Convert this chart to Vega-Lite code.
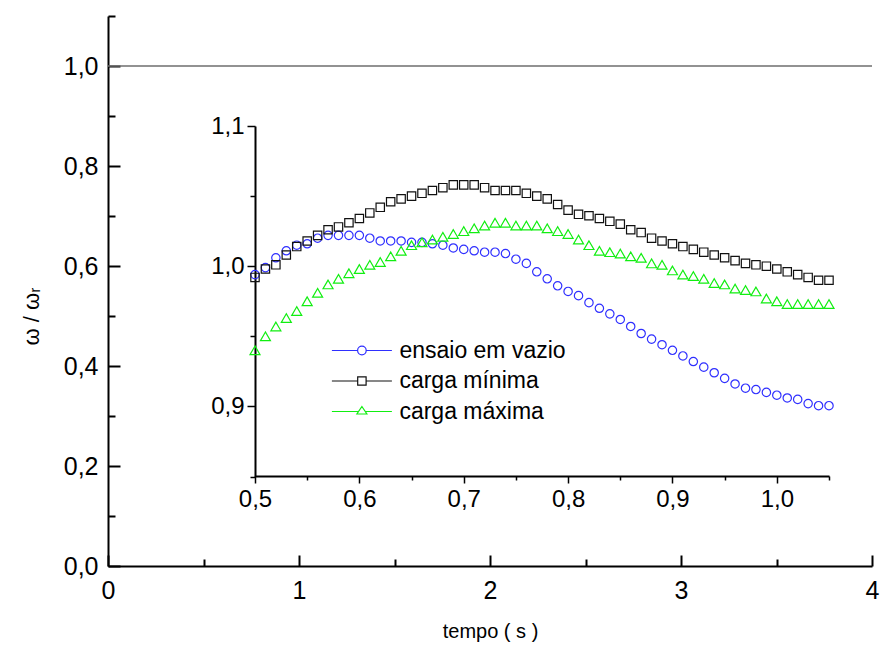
{
  "$schema": "https://vega.github.io/schema/vega-lite/v6.json",
  "width": 764,
  "height": 550,
  "autosize": {"type": "none"},
  "padding": {"left": 108, "top": 16, "right": 9, "bottom": 82},
  "background": "white",
  "config": {
    "font": "Liberation Sans",
    "view": {"stroke": null},
    "axis": {"grid": false, "labelColor": "#000", "titleColor": "#000", "domainColor": "#000", "tickColor": "#000", "labelOverlap": false, "labelFlush": false, "labelBound": false, "titleFontWeight": "normal"}
  },
  "datasets": {
    "ref": [{"r": 1.0}],
    "inset": [
      {"t":0.50,"s":"ensaio em vazio","w":0.994},{"t":0.51,"s":"ensaio em vazio","w":0.999},{"t":0.52,"s":"ensaio em vazio","w":1.006},{"t":0.53,"s":"ensaio em vazio","w":1.011},{"t":0.54,"s":"ensaio em vazio","w":1.015},{"t":0.55,"s":"ensaio em vazio","w":1.016},{"t":0.56,"s":"ensaio em vazio","w":1.020},{"t":0.57,"s":"ensaio em vazio","w":1.022},{"t":0.58,"s":"ensaio em vazio","w":1.022},{"t":0.59,"s":"ensaio em vazio","w":1.022},{"t":0.60,"s":"ensaio em vazio","w":1.022},{"t":0.61,"s":"ensaio em vazio","w":1.020},{"t":0.62,"s":"ensaio em vazio","w":1.018},{"t":0.63,"s":"ensaio em vazio","w":1.018},{"t":0.64,"s":"ensaio em vazio","w":1.018},{"t":0.65,"s":"ensaio em vazio","w":1.017},{"t":0.66,"s":"ensaio em vazio","w":1.017},{"t":0.67,"s":"ensaio em vazio","w":1.016},{"t":0.68,"s":"ensaio em vazio","w":1.015},{"t":0.69,"s":"ensaio em vazio","w":1.013},{"t":0.70,"s":"ensaio em vazio","w":1.012},{"t":0.71,"s":"ensaio em vazio","w":1.011},{"t":0.72,"s":"ensaio em vazio","w":1.010},{"t":0.73,"s":"ensaio em vazio","w":1.010},{"t":0.74,"s":"ensaio em vazio","w":1.009},{"t":0.75,"s":"ensaio em vazio","w":1.005},{"t":0.76,"s":"ensaio em vazio","w":1.002},{"t":0.77,"s":"ensaio em vazio","w":0.996},{"t":0.78,"s":"ensaio em vazio","w":0.991},{"t":0.79,"s":"ensaio em vazio","w":0.986},{"t":0.80,"s":"ensaio em vazio","w":0.982},{"t":0.81,"s":"ensaio em vazio","w":0.979},{"t":0.82,"s":"ensaio em vazio","w":0.974},{"t":0.83,"s":"ensaio em vazio","w":0.970},{"t":0.84,"s":"ensaio em vazio","w":0.966},{"t":0.85,"s":"ensaio em vazio","w":0.962},{"t":0.86,"s":"ensaio em vazio","w":0.957},{"t":0.87,"s":"ensaio em vazio","w":0.952},{"t":0.88,"s":"ensaio em vazio","w":0.948},{"t":0.89,"s":"ensaio em vazio","w":0.944},{"t":0.90,"s":"ensaio em vazio","w":0.940},{"t":0.91,"s":"ensaio em vazio","w":0.936},{"t":0.92,"s":"ensaio em vazio","w":0.932},{"t":0.93,"s":"ensaio em vazio","w":0.928},{"t":0.94,"s":"ensaio em vazio","w":0.924},{"t":0.95,"s":"ensaio em vazio","w":0.920},{"t":0.96,"s":"ensaio em vazio","w":0.916},{"t":0.97,"s":"ensaio em vazio","w":0.913},{"t":0.98,"s":"ensaio em vazio","w":0.912},{"t":0.99,"s":"ensaio em vazio","w":0.910},{"t":1.00,"s":"ensaio em vazio","w":0.908},{"t":1.01,"s":"ensaio em vazio","w":0.906},{"t":1.02,"s":"ensaio em vazio","w":0.905},{"t":1.03,"s":"ensaio em vazio","w":0.902},{"t":1.04,"s":"ensaio em vazio","w":0.9005},{"t":1.05,"s":"ensaio em vazio","w":0.9005},
      {"t":0.50,"s":"carga mínima","w":0.992},{"t":0.51,"s":"carga mínima","w":0.998},{"t":0.52,"s":"carga mínima","w":1.001},{"t":0.53,"s":"carga mínima","w":1.008},{"t":0.54,"s":"carga mínima","w":1.014},{"t":0.55,"s":"carga mínima","w":1.018},{"t":0.56,"s":"carga mínima","w":1.022},{"t":0.57,"s":"carga mínima","w":1.026},{"t":0.58,"s":"carga mínima","w":1.028},{"t":0.59,"s":"carga mínima","w":1.031},{"t":0.60,"s":"carga mínima","w":1.034},{"t":0.61,"s":"carga mínima","w":1.038},{"t":0.62,"s":"carga mínima","w":1.042},{"t":0.63,"s":"carga mínima","w":1.046},{"t":0.64,"s":"carga mínima","w":1.048},{"t":0.65,"s":"carga mínima","w":1.050},{"t":0.66,"s":"carga mínima","w":1.052},{"t":0.67,"s":"carga mínima","w":1.054},{"t":0.68,"s":"carga mínima","w":1.056},{"t":0.69,"s":"carga mínima","w":1.058},{"t":0.70,"s":"carga mínima","w":1.058},{"t":0.71,"s":"carga mínima","w":1.058},{"t":0.72,"s":"carga mínima","w":1.056},{"t":0.73,"s":"carga mínima","w":1.054},{"t":0.74,"s":"carga mínima","w":1.054},{"t":0.75,"s":"carga mínima","w":1.054},{"t":0.76,"s":"carga mínima","w":1.052},{"t":0.77,"s":"carga mínima","w":1.050},{"t":0.78,"s":"carga mínima","w":1.048},{"t":0.79,"s":"carga mínima","w":1.044},{"t":0.80,"s":"carga mínima","w":1.040},{"t":0.81,"s":"carga mínima","w":1.037},{"t":0.82,"s":"carga mínima","w":1.036},{"t":0.83,"s":"carga mínima","w":1.034},{"t":0.84,"s":"carga mínima","w":1.032},{"t":0.85,"s":"carga mínima","w":1.030},{"t":0.86,"s":"carga mínima","w":1.026},{"t":0.87,"s":"carga mínima","w":1.024},{"t":0.88,"s":"carga mínima","w":1.020},{"t":0.89,"s":"carga mínima","w":1.018},{"t":0.90,"s":"carga mínima","w":1.016},{"t":0.91,"s":"carga mínima","w":1.014},{"t":0.92,"s":"carga mínima","w":1.012},{"t":0.93,"s":"carga mínima","w":1.010},{"t":0.94,"s":"carga mínima","w":1.008},{"t":0.95,"s":"carga mínima","w":1.006},{"t":0.96,"s":"carga mínima","w":1.004},{"t":0.97,"s":"carga mínima","w":1.002},{"t":0.98,"s":"carga mínima","w":1.001},{"t":0.99,"s":"carga mínima","w":1.000},{"t":1.00,"s":"carga mínima","w":0.998},{"t":1.01,"s":"carga mínima","w":0.996},{"t":1.02,"s":"carga mínima","w":0.994},{"t":1.03,"s":"carga mínima","w":0.992},{"t":1.04,"s":"carga mínima","w":0.990},{"t":1.05,"s":"carga mínima","w":0.990},
      {"t":0.50,"s":"carga máxima","w":0.940},{"t":0.51,"s":"carga máxima","w":0.950},{"t":0.52,"s":"carga máxima","w":0.957},{"t":0.53,"s":"carga máxima","w":0.963},{"t":0.54,"s":"carga máxima","w":0.968},{"t":0.55,"s":"carga máxima","w":0.975},{"t":0.56,"s":"carga máxima","w":0.981},{"t":0.57,"s":"carga máxima","w":0.987},{"t":0.58,"s":"carga máxima","w":0.991},{"t":0.59,"s":"carga máxima","w":0.995},{"t":0.60,"s":"carga máxima","w":0.998},{"t":0.61,"s":"carga máxima","w":1.001},{"t":0.62,"s":"carga máxima","w":1.003},{"t":0.63,"s":"carga máxima","w":1.007},{"t":0.64,"s":"carga máxima","w":1.011},{"t":0.65,"s":"carga máxima","w":1.015},{"t":0.66,"s":"carga máxima","w":1.017},{"t":0.67,"s":"carga máxima","w":1.019},{"t":0.68,"s":"carga máxima","w":1.021},{"t":0.69,"s":"carga máxima","w":1.023},{"t":0.70,"s":"carga máxima","w":1.025},{"t":0.71,"s":"carga máxima","w":1.027},{"t":0.72,"s":"carga máxima","w":1.029},{"t":0.73,"s":"carga máxima","w":1.031},{"t":0.74,"s":"carga máxima","w":1.031},{"t":0.75,"s":"carga máxima","w":1.029},{"t":0.76,"s":"carga máxima","w":1.029},{"t":0.77,"s":"carga máxima","w":1.029},{"t":0.78,"s":"carga máxima","w":1.027},{"t":0.79,"s":"carga máxima","w":1.025},{"t":0.80,"s":"carga máxima","w":1.023},{"t":0.81,"s":"carga máxima","w":1.019},{"t":0.82,"s":"carga máxima","w":1.015},{"t":0.83,"s":"carga máxima","w":1.011},{"t":0.84,"s":"carga máxima","w":1.010},{"t":0.85,"s":"carga máxima","w":1.009},{"t":0.86,"s":"carga máxima","w":1.007},{"t":0.87,"s":"carga máxima","w":1.006},{"t":0.88,"s":"carga máxima","w":1.002},{"t":0.89,"s":"carga máxima","w":1.001},{"t":0.90,"s":"carga máxima","w":0.997},{"t":0.91,"s":"carga máxima","w":0.994},{"t":0.92,"s":"carga máxima","w":0.993},{"t":0.93,"s":"carga máxima","w":0.991},{"t":0.94,"s":"carga máxima","w":0.988},{"t":0.95,"s":"carga máxima","w":0.987},{"t":0.96,"s":"carga máxima","w":0.984},{"t":0.97,"s":"carga máxima","w":0.983},{"t":0.98,"s":"carga máxima","w":0.982},{"t":0.99,"s":"carga máxima","w":0.977},{"t":1.00,"s":"carga máxima","w":0.975},{"t":1.01,"s":"carga máxima","w":0.973},{"t":1.02,"s":"carga máxima","w":0.973},{"t":1.03,"s":"carga máxima","w":0.973},{"t":1.04,"s":"carga máxima","w":0.973},{"t":1.05,"s":"carga máxima","w":0.973}
    ]
  },
  "layer": [
    {
      "data": {"name": "ref"},
      "mark": {"type": "rule", "color": "#6e6e6e", "strokeWidth": 1.3},
      "encoding": {
        "y": {
          "field": "r", "type": "quantitative",
          "scale": {"domain": [0, 1.1], "nice": false, "zero": true},
          "axis": {
            "orient": "left", "values": [0, 0.2, 0.4, 0.6, 0.8, 1.0],
            "labelExpr": "replace(format(datum.value, '.1f'), '.', ',')",
            "labelFontSize": 25, "labelPadding": 22, "tickSize": -12, "tickWidth": 2, "domainWidth": 2,
            "title": "ω / ωᵣ", "titleFontSize": 22, "titlePadding": 20, "titleY": 300
          }
        },
        "x": {
          "datum": 0, "type": "quantitative",
          "scale": {"domain": [0, 4], "nice": false},
          "axis": {
            "orient": "bottom", "values": [0, 1, 2, 3, 4], "format": "d",
            "labelFontSize": 25, "labelPadding": 23, "tickSize": -11, "tickWidth": 2, "domainWidth": 2,
            "title": "tempo ( s )", "titleFontSize": 20, "titlePadding": 18
          }
        },
        "x2": {"datum": 4}
      }
    },
    {
      "data": {"name": "ref"},
      "mark": {"type": "rule", "opacity": 0},
      "encoding": {
        "y": {
          "field": "r", "type": "quantitative",
          "scale": {"domain": [0, 1.1], "nice": false, "zero": true},
          "axis": {"orient": "left", "values": [0.1, 0.3, 0.5, 0.7, 0.9, 1.1], "labels": false, "domain": false, "tickSize": -7, "tickWidth": 2, "title": null}
        },
        "x": {
          "datum": 0, "type": "quantitative",
          "scale": {"domain": [0, 4], "nice": false},
          "axis": {"orient": "bottom", "values": [0.5, 1.5, 2.5, 3.5], "labels": false, "domain": false, "tickSize": -7, "tickWidth": 2, "title": null}
        },
        "x2": {"datum": 4}
      }
    },
    {
      "data": {"name": "inset"},
      "mark": {"type": "point", "filled": false, "strokeWidth": 1.2, "opacity": 1},
      "encoding": {
        "x": {
          "field": "t", "type": "quantitative",
          "scale": {"domain": [0.5, 1.05], "range": [147, 721], "nice": false, "zero": false},
          "axis": {
            "orient": "bottom", "offset": -90, "values": [0.5, 0.6, 0.7, 0.8, 0.9, 1.0],
            "labelExpr": "replace(format(datum.value, '.1f'), '.', ',')",
            "labelFontSize": 24, "labelPadding": 4, "tickSize": 7, "tickWidth": 1.5, "domainWidth": 2, "title": null
          }
        },
        "y": {
          "field": "w", "type": "quantitative",
          "scale": {"domain": [0.85, 1.1], "range": [460.5, 110], "nice": false, "zero": false},
          "axis": {
            "orient": "left", "offset": -147, "values": [0.9, 1.0, 1.1],
            "labelExpr": "replace(format(datum.value, '.1f'), '.', ',')",
            "labelFontSize": 24, "labelPadding": 3, "tickSize": 8, "tickWidth": 1.5, "domainWidth": 2, "title": null
          }
        },
        "color": {
          "field": "s", "type": "nominal",
          "scale": {"domain": ["ensaio em vazio", "carga mínima", "carga máxima"], "range": ["#2f2fff", "#111111", "#11ee11"]},
          "legend": null
        },
        "shape": {
          "field": "s", "type": "nominal",
          "scale": {"domain": ["ensaio em vazio", "carga mínima", "carga máxima"], "range": ["circle", "square", "triangle-up"]},
          "legend": null
        },
        "size": {
          "field": "s", "type": "nominal",
          "scale": {"type": "ordinal", "domain": ["ensaio em vazio", "carga mínima", "carga máxima"], "range": [70, 70, 100]},
          "legend": null
        }
      }
    },
    {
      "data": {"name": "inset"},
      "mark": {"type": "point", "opacity": 0},
      "encoding": {
        "x": {
          "field": "t", "type": "quantitative",
          "scale": {"domain": [0.5, 1.05], "range": [147, 721], "nice": false, "zero": false},
          "axis": {"orient": "bottom", "offset": -90, "values": [0.55, 0.65, 0.75, 0.85, 0.95, 1.05], "labels": false, "domain": false, "tickSize": 4, "tickWidth": 1.5, "title": null}
        },
        "y": {
          "field": "w", "type": "quantitative",
          "scale": {"domain": [0.85, 1.1], "range": [460.5, 110], "nice": false, "zero": false},
          "axis": {"orient": "left", "offset": -147, "values": [0.85, 0.95, 1.05], "labels": false, "domain": false, "tickSize": 5, "tickWidth": 1.5, "title": null}
        }
      }
    },
    {
      "data": {"name": "inset"},
      "mark": {"type": "point", "filled": false, "opacity": 0, "strokeWidth": 1.2},
      "encoding": {
        "color": {
          "field": "s", "type": "nominal",
          "scale": {"domain": ["ensaio em vazio", "carga mínima", "carga máxima"], "range": ["#2f2fff", "#111111", "#11ee11"]},
          "legend": {
            "orient": "none", "legendX": 225, "legendY": 323, "title": null,
            "labelFontSize": 23, "labelColor": "#000", "labelOffset": 26, "labelLimit": 400,
            "symbolSize": 100, "symbolOffset": 17.4, "symbolStrokeWidth": 1.2, "symbolOpacity": 1, "rowPadding": 6.5
          }
        },
        "shape": {
          "field": "s", "type": "nominal",
          "scale": {"domain": ["ensaio em vazio", "carga mínima", "carga máxima"], "range": [
            "M-6,0H-0.86M0.86,0H6M0.86,0A0.86,0.86,0,1,1,-0.86,0A0.86,0.86,0,1,1,0.86,0",
            "M-6,0H-0.84M0.84,0H6M-0.84,-0.84H0.84V0.84H-0.84Z",
            "M-6,0H-0.7M0.7,0H6M0,-1L1,0.5L-1,0.5Z"
          ]},
          "legend": {
            "orient": "none", "legendX": 225, "legendY": 323, "title": null,
            "labelFontSize": 23, "labelColor": "#000", "labelOffset": 26, "labelLimit": 400,
            "symbolSize": 100, "symbolOffset": 17.4, "symbolStrokeWidth": 1.2, "symbolOpacity": 1, "rowPadding": 6.5
          }
        }
      }
    }
  ],
  "resolve": {
    "scale": {"x": "independent", "y": "independent", "color": "independent", "shape": "independent"},
    "axis": {"x": "independent", "y": "independent"}
  }
}
